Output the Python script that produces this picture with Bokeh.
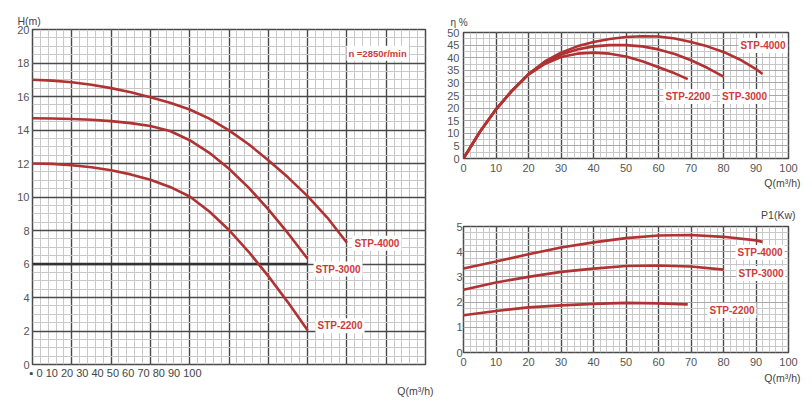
from bokeh.plotting import figure
from bokeh.layouts import row, column
from bokeh.models import Range1d, FixedTicker, Label, Title
from bokeh.embed import file_html
from bokeh.resources import INLINE

FONT = "Liberation Sans"
CURVE = "#b03232"
LBL = "#d03a3a"
TICK = "#555555"
MAJOR = "#4a4a4a"
MINOR = "#c8c8c8"

# ---------------- data ----------------
# Head curves H(m) vs Q (left chart)
hq_q_2200 = [0, 5, 10, 15, 20, 25, 30, 35, 40, 45, 50, 55, 60, 65, 70]
hq_h_2200 = [12.0, 11.975, 11.9, 11.775, 11.6, 11.35, 11.03, 10.6, 10.03, 9.13, 8.03, 6.73, 5.28, 3.71, 2.04]
hq_q_3000 = [0, 5, 10, 15, 20, 25, 30, 35, 40, 45, 50, 55, 60, 65, 70]
hq_h_3000 = [14.7, 14.69, 14.66, 14.61, 14.53, 14.41, 14.24, 13.94, 13.39, 12.64, 11.69, 10.56, 9.26, 7.84, 6.31]
hq_q_4000 = [0, 5, 10, 15, 20, 25, 30, 35, 40, 45, 50, 55, 60, 65, 70, 75, 80]
hq_h_4000 = [17.0, 16.95, 16.85, 16.7, 16.5, 16.25, 15.95, 15.625, 15.225, 14.675, 13.975, 13.15, 12.2, 11.175, 10.05, 8.775, 7.27]

# Efficiency eta(%) vs Q (top right)
ef_q_2200 = [0, 5, 10, 15, 20, 25, 30, 35, 40, 45, 50, 55, 60, 65, 69]
ef_e_2200 = [0, 10.5, 19.5, 27, 33.3, 37.5, 40.3, 41.6, 42.0, 41.6, 40.5, 38.6, 36.2, 33.8, 31.5]
ef_q_3000 = [0, 5, 10, 15, 20, 25, 30, 35, 40, 45, 50, 55, 60, 65, 70, 75, 80]
ef_e_3000 = [0, 10.5, 19.5, 27, 33.5, 38.0, 41.3, 43.3, 44.5, 45.0, 45.0, 44.5, 43.3, 41.5, 39.0, 36.0, 32.5]
ef_q_4000 = [0, 5, 10, 15, 20, 25, 30, 35, 40, 45, 50, 55, 60, 65, 70, 75, 80, 85, 90, 92]
ef_e_4000 = [0, 10.5, 19.5, 27, 33.5, 38.5, 42.0, 44.5, 46.2, 47.4, 48.2, 48.5, 48.4, 47.6, 46.2, 44.5, 42.3, 39.3, 35.5, 33.5]

# Power P1(kW) vs Q (bottom right)
pw_q_2200 = [0, 10, 20, 30, 40, 50, 60, 69]
pw_p_2200 = [1.48, 1.65, 1.79, 1.87, 1.93, 1.97, 1.95, 1.91]
pw_q_3000 = [0, 10, 20, 30, 40, 50, 60, 70, 80]
pw_p_3000 = [2.49, 2.78, 3.0, 3.2, 3.33, 3.43, 3.45, 3.41, 3.29]
pw_q_4000 = [0, 10, 20, 30, 40, 50, 60, 70, 80, 90, 92]
pw_p_4000 = [3.33, 3.61, 3.9, 4.17, 4.37, 4.54, 4.64, 4.66, 4.59, 4.45, 4.39]

q_ticks = [0, 10, 20, 30, 40, 50, 60, 70, 80, 90, 100]
h_ticks = [0, 2, 4, 6, 8, 10, 12, 14, 16, 18, 20]
eta_ticks = [0, 5, 10, 15, 20, 25, 30, 35, 40, 45, 50]
p_ticks = [0, 1, 2, 3, 4, 5]
squeezed_q_labels = "\u25aa 0 10 20 30 40 50 60 70 80 90 100"
speed_text = "n =2850r/min"
q_unit = "Q(m\u00b3/h)"


def side_text(text, align, offset, standoff, size="10.5px", valign="bottom"):
    return Title(text=text, align=align, offset=offset, standoff=standoff,
                 vertical_align=valign,
                 text_font=FONT, text_font_size=size, text_color="#444444",
                 text_font_style="normal")


def make_fig(xr, yr, w, h, bl, bt, br, bb, top_title):
    p = figure(width=w, height=h,
               x_range=Range1d(*xr), y_range=Range1d(*yr),
               output_backend="svg", toolbar_location=None,
               min_border_left=bl, min_border_top=bt,
               min_border_right=br, min_border_bottom=bb,
               background_fill_color="white", border_fill_color="white",
               outline_line_color=MAJOR, outline_line_width=1.5,
               title=top_title, title_location="above")
    for ax in p.axis:
        ax.axis_line_color = None
        ax.major_tick_line_color = None
        ax.minor_tick_line_color = None
        ax.major_tick_in = 0
        ax.major_tick_out = 0
        ax.minor_tick_in = 0
        ax.minor_tick_out = 0
        ax.major_label_text_font = FONT
        ax.major_label_text_color = TICK
        ax.major_label_text_font_size = "11px"
    return p


def add_label(p, x, y, text, size="10px", align="left"):
    lab = Label(x=x, y=y, text=text, text_font=FONT, text_font_size=size,
                text_color=LBL, text_font_style="bold",
                text_align=align, text_baseline="middle",
                background_fill_color="white", padding=2)
    p.add_layout(lab)


def style_grids(p, xmin, ymaj, ymin, ycolor, yw):
    p.xgrid.ticker = FixedTicker(ticks=q_ticks, minor_ticks=xmin)
    p.ygrid.ticker = FixedTicker(ticks=ymaj, minor_ticks=ymin)
    p.xgrid.grid_line_color = MAJOR
    p.xgrid.grid_line_width = 1.4
    p.ygrid.grid_line_color = ycolor
    p.ygrid.grid_line_width = yw
    for g in (p.xgrid, p.ygrid):
        g.minor_grid_line_color = MINOR
        g.minor_grid_line_width = 1


# ---------------- left: H-Q ----------------
pl = make_fig((0, 100), (0, 20), 436, 400, 32, 29, 11, 34,
              side_text("H(m)", "left", -15, 6))
pl.xaxis.visible = False
pl.yaxis.ticker = FixedTicker(ticks=h_ticks, minor_ticks=[])
pl.yaxis.major_label_standoff = 3
style_grids(pl, list(range(0, 101, 2)), h_ticks, [i * 0.5 for i in range(41)], MAJOR, 1.4)
pl.line([0, 70], [6, 6], line_color="#333333", line_width=2.4)

for qs, hs in ((hq_q_2200, hq_h_2200), (hq_q_3000, hq_h_3000), (hq_q_4000, hq_h_4000)):
    pl.line(qs, hs, line_color=CURVE, line_width=2.6)

pl.add_layout(side_text(squeezed_q_labels, "left", -3, 0, size="11px"), "below")
pl.add_layout(side_text(q_unit, "right", -8, 8), "below")
add_label(pl, 87.8, 18.58, speed_text, size="9.5px", align="center")
add_label(pl, 81.4, 7.24, "STP-4000")
add_label(pl, 71.5, 5.70, "STP-3000")
add_label(pl, 72.0, 2.31, "STP-2200")

# ---------------- top right: efficiency ----------------
pe = make_fig((0, 100), (0, 50), 376, 200, 26, 32, 23, 42,
              side_text("\u03b7  %", "left", -13, 8, size="10px", valign="middle"))
pe.xaxis.ticker = FixedTicker(ticks=q_ticks, minor_ticks=[])
pe.yaxis.ticker = FixedTicker(ticks=eta_ticks, minor_ticks=[])
pe.xaxis.major_label_standoff = 5
pe.yaxis.major_label_standoff = 4
style_grids(pe, list(range(0, 101, 2)), eta_ticks, [i * 2.5 for i in range(21)], "#a8a8a8", 1)

for qs, es in ((ef_q_2200, ef_e_2200), (ef_q_3000, ef_e_3000), (ef_q_4000, ef_e_4000)):
    pe.line(qs, es, line_color=CURVE, line_width=2.6)

pe.add_layout(side_text(q_unit, "right", -12, 0), "below")
add_label(pe, 84.6, 44.8, "STP-4000")
add_label(pe, 61.5, 24.6, "STP-2200")
add_label(pe, 78.9, 24.6, "STP-3000")

# ---------------- bottom right: power ----------------
pp = make_fig((0, 100), (0, 5), 376, 200, 27, 26, 24, 48,
              side_text("P1(Kw)", "right", -7, 10, valign="middle"))
pp.xaxis.ticker = FixedTicker(ticks=q_ticks, minor_ticks=[])
pp.yaxis.ticker = FixedTicker(ticks=p_ticks, minor_ticks=[])
pp.xaxis.major_label_standoff = 5
pp.yaxis.major_label_standoff = 1
style_grids(pp, list(range(0, 101, 2)), p_ticks, [i * 0.25 for i in range(21)], "#a8a8a8", 1)

for qs, ps in ((pw_q_2200, pw_p_2200), (pw_q_3000, pw_p_3000), (pw_q_4000, pw_p_4000)):
    pp.line(qs, ps, line_color=CURVE, line_width=2.6)

pp.add_layout(side_text(q_unit, "right", -12, 2), "below")
add_label(pp, 83.7, 3.97, "STP-4000")
add_label(pp, 84.0, 3.13, "STP-3000")
add_label(pp, 75.1, 1.67, "STP-2200")

layout = row(pl, column(pe, pp))
open("out.html", "w").write(file_html(layout, INLINE))
